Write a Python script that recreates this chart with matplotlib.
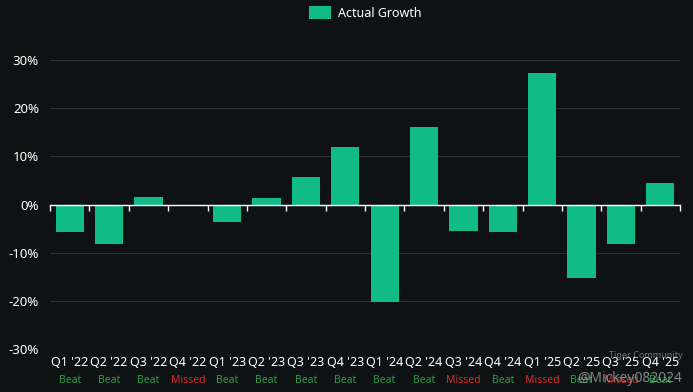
import numpy as np
import matplotlib
matplotlib.use("Agg")
from matplotlib import pyplot as plt
from matplotlib.transforms import blended_transform_factory

# 季度数据
quarters = ["Q1 '22", "Q2 '22", "Q3 '22", "Q4 '22", "Q1 '23", "Q2 '23", "Q3 '23", "Q4 '23",
            "Q1 '24", "Q2 '24", "Q3 '24", "Q4 '24", "Q1 '25", "Q2 '25", "Q3 '25", "Q4 '25"]
growth = [-5.8, -8.3, 1.5, 0.0, -3.7, 1.3, 5.8, 12.0,
          -20.3, 16.0, -5.4, -5.8, 27.2, -15.3, -8.1, 4.5]
results = ["Beat", "Beat", "Beat", "Missed", "Beat", "Beat", "Beat", "Beat",
           "Beat", "Beat", "Missed", "Beat", "Missed", "Beat", "Missed", "Beat"]
yticks = [-30, -20, -10, 0, 10, 20, 30]

bg = "#0f1213"
bar_color = "#10bb84"
plt.rcParams["font.family"] = ["Noto Sans", "DejaVu Sans"]

fig = plt.figure(figsize=(6.93, 3.92), dpi=100, facecolor=bg)
ax = fig.add_axes([50 / 693, 1 - 349 / 392, 630 / 693, 289 / 392], facecolor=bg)

x = np.arange(len(quarters))
ax.bar(x, growth, width=0.72, color=bar_color, label="Actual Growth", zorder=3)

ax.set_xlim(-0.5, len(quarters) - 0.5)
ax.set_ylim(-30, 30)
ax.set_yticks(yticks)
ax.set_yticklabels([f"{v}%" for v in yticks], color="white", fontsize=9.5)
ax.tick_params(axis="y", length=0, pad=8)
ax.grid(axis="y", color="#2c3031", linewidth=0.8, zorder=0)

# x轴放在0的位置
for s in ["top", "right", "left"]:
    ax.spines[s].set_visible(False)
ax.spines["bottom"].set_position(("data", 0))
ax.spines["bottom"].set_color("white")
ax.spines["bottom"].set_linewidth(1.0)
ax.spines["bottom"].set_zorder(4)
ax.set_xticks(np.arange(len(quarters) + 1) - 0.5)
ax.set_xticklabels([])
ax.tick_params(axis="x", direction="out", length=4, width=1, color="white")

trans = blended_transform_factory(ax.transData, ax.transAxes)
for i, (q, r) in enumerate(zip(quarters, results)):
    ax.text(i, -0.045, q, transform=trans, ha="center", va="center",
            color="white", fontsize=9)
    c = "#2f9a4a" if r == "Beat" else "#d62a2a"
    ax.text(i, -0.11, r, transform=trans, ha="center", va="center",
            color=c, fontsize=7.5, fontweight="bold")

leg = ax.legend(loc="lower center", bbox_to_anchor=(0.5, 1.10), frameon=False,
                fontsize=9, labelcolor="white", handlelength=1.8, handleheight=1.2,
                handletextpad=0.5)

# 水印
fig.text(0.985, 0.088, "Tiger Community", color="#8a8d8e", fontsize=6.5, ha="right", alpha=0.8)
fig.text(0.985, 0.025, "@Mickey082024", color="#b0b3b4", fontsize=10, ha="right", alpha=0.7)

fig.savefig("out.png", dpi=100, facecolor=bg)
